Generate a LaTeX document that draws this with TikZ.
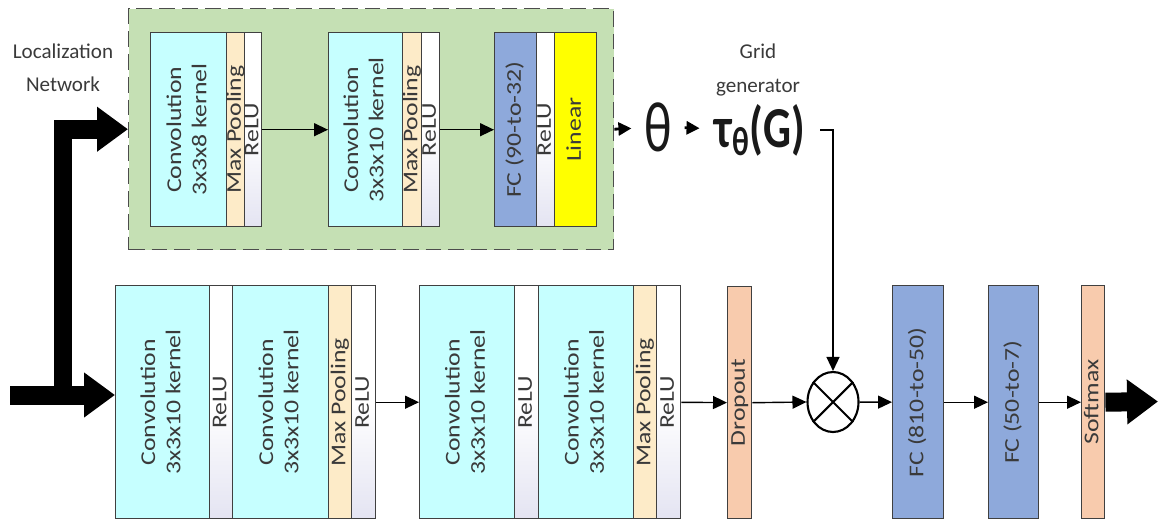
\documentclass[tikz,border=0pt]{standalone}
\usepackage{fontspec}
\setmainfont{Carlito}
\usepackage{graphicx}
\usetikzlibrary{arrows.meta,shapes.geometric}

\definecolor{convcyan}{HTML}{C6FFFF}
\definecolor{pooltan}{HTML}{FDEBC8}
\definecolor{fcblue}{HTML}{8EA9DB}
\definecolor{dropsalmon}{HTML}{F8CBAD}
\definecolor{locgreen}{HTML}{C5E0B4}
\definecolor{linyellow}{HTML}{FFFF00}
\definecolor{relulav}{HTML}{E4E4F2}
\definecolor{txtgray}{HTML}{3A3A3A}

%%% vertical text inside the layer boxes
\newcommand{\vlab}[1]{\makebox[0pt]{\rotatebox{90}{\scalebox{1.22}[1]{\begin{tabular}{@{}c@{}}#1\end{tabular}}}}}

\tikzset{
  blk/.style 2 args={minimum width=#1*0.02cm, minimum height=#2*0.02cm},
  layer/.style={draw=black!75, line width=0.8pt, anchor=north west, inner sep=0pt,
    text=txtgray, font=\fontsize{12}{14.4}\selectfont},
  conv/.style={layer, fill=convcyan},
  pool/.style={layer, fill=pooltan},
  relu/.style={layer, top color=white, bottom color=relulav, middle color=white},
  fc/.style={layer, fill=fcblue},
  lin/.style={layer, fill=linyellow},
  drop/.style={layer, fill=dropsalmon},
  note/.style={align=center, text=txtgray, font=\fontsize{12}{19}\selectfont},
  thinarr/.style={line width=0.8pt, -{Triangle[length=0.28cm,width=0.26cm]}},
  medarr/.style={line width=1.6pt, -{Triangle[length=0.26cm,width=0.26cm]}},
  fatarr/.style={line width=0.38cm, line join=miter, -{Triangle[length=0.62cm,width=0.86cm]}}
}

\begin{document}
\begin{tikzpicture}[x=0.02cm, y=-0.02cm]
\useasboundingbox (0,0) rectangle (1158,521);
%%% The localization network (green dashed box)
\node[draw=black!70, fill=locgreen, line width=0.8pt, dash pattern=on 9pt off 4pt,
  anchor=north west, blk={485}{241}] (loc) at (128,8) {};
\node[conv, blk={76}{194}] (lc1) at (150,32) {\vlab{Convolution\\3x3x8 kernel}};
\node[pool, blk={18}{194}] (lp1) at (226,32) {\vlab{Max Pooling}};
\node[relu, blk={17}{194}] (lr1) at (244,32) {\vlab{ReLU}};
\node[conv, blk={74}{194}] (lc2) at (328,32) {\vlab{Convolution\\3x3x10 kernel}};
\node[pool, blk={19}{194}] (lp2) at (402,32) {\vlab{Max Pooling}};
\node[relu, blk={18}{194}] (lr2) at (421,32) {\vlab{ReLU}};
\node[fc, blk={42}{194}] (lfc) at (494,32) {\vlab{FC (90-to-32)}};
\node[relu, blk={18}{194}] (lr3) at (536,32) {\vlab{ReLU}};
\node[lin, blk={42}{194}] (llin) at (554,32) {\vlab{Linear}};
\draw[thinarr] (lr1) -- (lc2);
\draw[thinarr] (lr2) -- (lfc);
%%% Labels, theta and the grid generator
\node[note] (locnet) at (63,68) {Localization\\Network};
\node[note] (grid) at (758,70) {Grid\\generator};
\node[font=\fontsize{28}{30}\selectfont, text=black!90, inner sep=0.25cm] (theta) at (658,127) {\scalebox{1.05}[1.45]{θ}};
\node[font=\bfseries\fontsize{25}{28}\selectfont, text=black!90, inner sep=0.3cm] (tau) at (760,130) {\scalebox{1}[1.32]{τ\textsubscript{θ}(G)}};
\draw[medarr] (loc.east) -- (theta);
\draw[medarr] (theta) -- (tau);
%%% The main network, first block
\node[conv, blk={94}{233}] (c1) at (115,285) {\vlab{Convolution\\3x3x10 kernel}};
\node[relu, blk={23}{233}] (r1) at (209,285) {\vlab{ReLU}};
\node[conv, blk={96}{233}] (c2) at (232,285) {\vlab{Convolution\\3x3x10 kernel}};
\node[pool, blk={23}{233}] (p1) at (328,285) {\vlab{Max Pooling}};
\node[relu, blk={24}{233}] (r2) at (351,285) {\vlab{ReLU}};
%%% second block
\node[conv, blk={95}{233}] (c3) at (419,285) {\vlab{Convolution\\3x3x10 kernel}};
\node[relu, blk={24}{233}] (r3) at (514,285) {\vlab{ReLU}};
\node[conv, blk={95}{233}] (c4) at (538,285) {\vlab{Convolution\\3x3x10 kernel}};
\node[pool, blk={23}{233}] (p2) at (633,285) {\vlab{Max Pooling}};
\node[relu, blk={24}{233}] (r4) at (656,285) {\vlab{ReLU}};
%%% dropout, sampler and classifier
\node[drop, blk={24}{232}] (dropout) at (727,286) {\vlab{Dropout}};
\node[draw, ellipse, line width=1.2pt, minimum width=1.02cm, minimum height=1.2cm, inner sep=0pt] (mul) at (833,402) {};
\draw[line width=1.2pt] (mul.135) -- (mul.-45) (mul.45) -- (mul.-135);
\node[fc, blk={51}{233}] (fc1) at (892,285) {\vlab{FC (810-to-50)}};
\node[fc, blk={50}{233}] (fc2) at (988,285) {\vlab{FC (50-to-7)}};
\node[drop, blk={23}{233}] (soft) at (1081,285) {\vlab{Softmax}};
\draw[thinarr] (r2) -- (c3);
\draw[thinarr] (r4) -- (dropout);
\draw[thinarr] (dropout.east) -- (mul.west);
\draw[thinarr] (mul) -- (fc1);
\draw[thinarr] (fc1) -- (fc2);
\draw[thinarr] (fc2) -- (soft);
\draw[thinarr] (tau.east) -| (mul.north);
%%% The thick input and output arrows
\coordinate (in) at (10,395);
\coordinate (split) at (63,395);
\coordinate (out) at (1158,401.5);
\draw[fatarr] (in) -- (c1.west |- in);
\draw[fatarr] (split) |- (loc.west);
\draw[fatarr] (soft.east) -- (out);
\end{tikzpicture}
\end{document}
